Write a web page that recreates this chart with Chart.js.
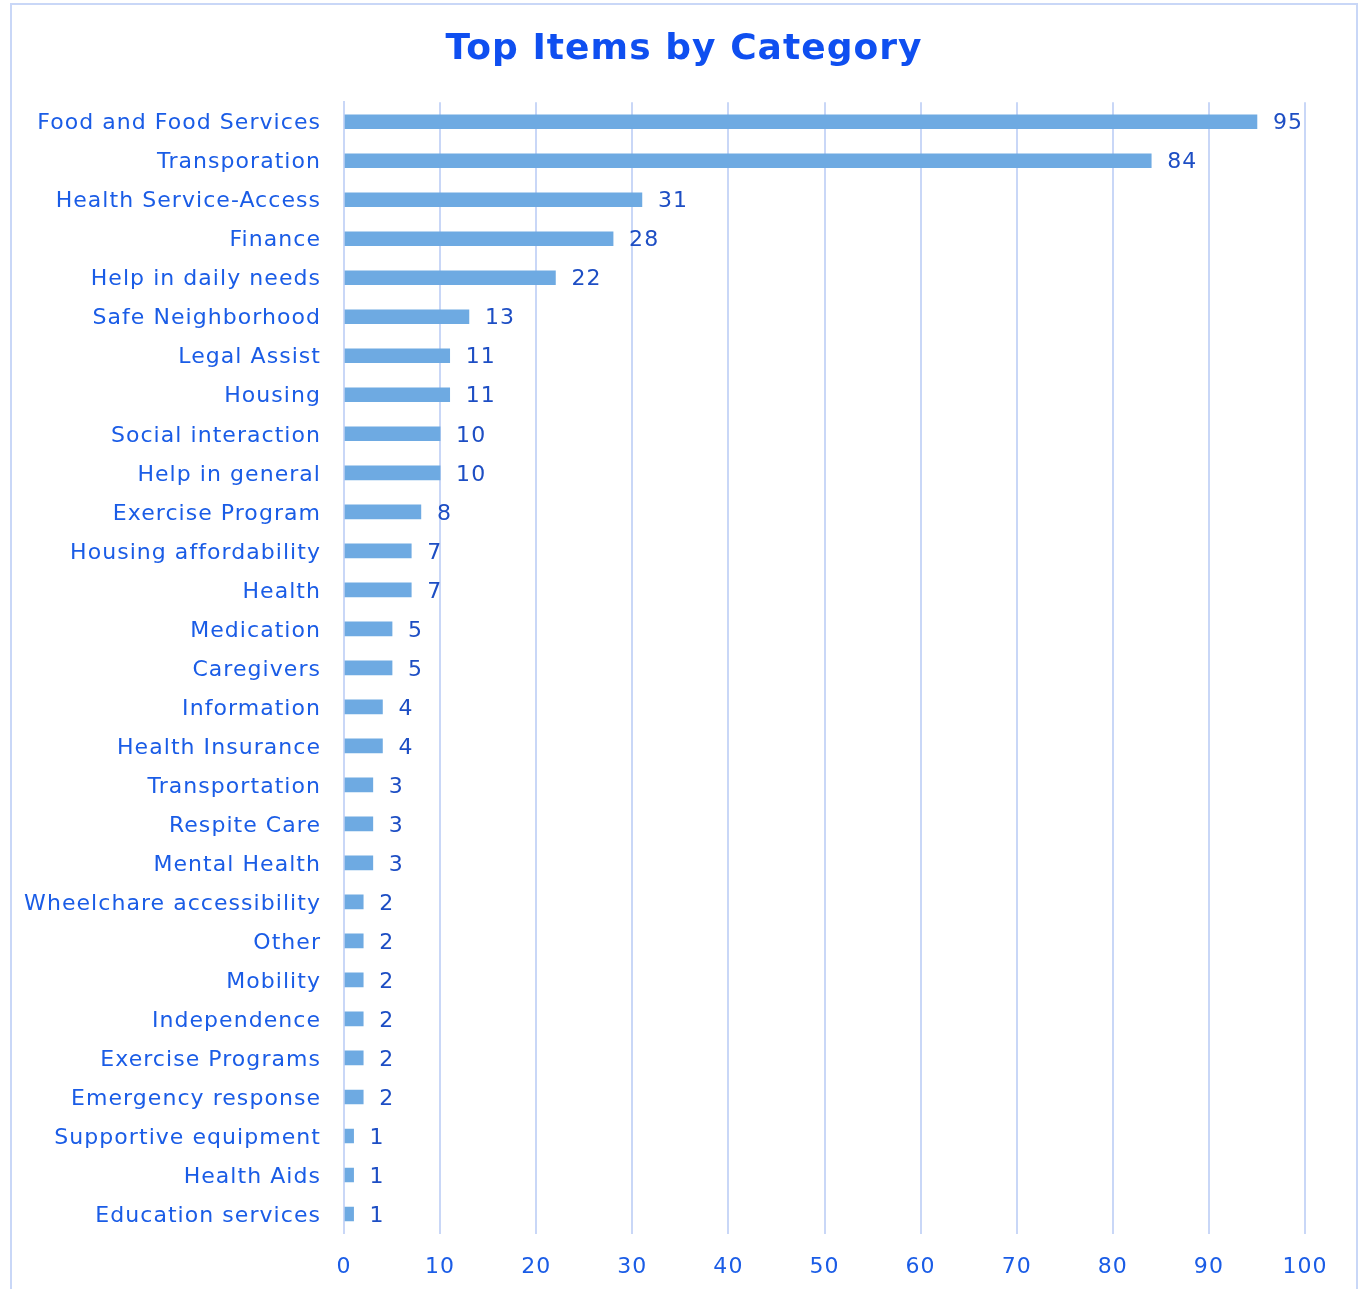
<!DOCTYPE html>
<html>
<head>
<meta charset="utf-8">
<script src="https://cdn.jsdelivr.net/npm/chart.js@4/dist/chart.umd.min.js"></script>
<style>
  html, body { margin: 0; padding: 0; background: #ffffff; }
  #frame {
    position: absolute; left: 10px; top: 3px; width: 1348px; height: 1300px;
    border: 2px solid #c9d7f7; box-sizing: border-box;
  }
  #wrap { position: absolute; left: 0; top: 0; width: 1361px; height: 1289px; }
</style>
</head>
<body>
<div id="frame"></div>
<div id="wrap"><canvas id="chart" width="1361" height="1289"></canvas></div>
<script>
// Categories and their counts, largest first
const categories = [
  "Food and Food Services", "Transporation", "Health Service-Access", "Finance",
  "Help in daily needs", "Safe Neighborhood", "Legal Assist", "Housing",
  "Social interaction", "Help in general", "Exercise Program", "Housing affordability",
  "Health", "Medication", "Caregivers", "Information", "Health Insurance",
  "Transportation", "Respite Care", "Mental Health", "Wheelchare accessibility",
  "Other", "Mobility", "Independence", "Exercise Programs", "Emergency response",
  "Supportive equipment", "Health Aids", "Education services"
];
const counts = [
  95, 84, 31, 28, 22, 13, 11, 11, 10, 10, 8, 7, 7, 5, 5, 4, 4, 3, 3, 3,
  2, 2, 2, 2, 2, 2, 1, 1, 1
];
const xTicks = [0, 10, 20, 30, 40, 50, 60, 70, 80, 90, 100];
const chartTitle = "Top Items by Category";

const FONT = "'DejaVu Sans', Verdana, sans-serif";
const LABEL_BLUE = "#1a5ce6";
const VALUE_BLUE = "#1d4ec4";
const TITLE_BLUE = "#0f4ff0";
const GRID = "#c9d7f7";

// Slightly wider tracking for all canvas text
const tracking = {
  id: "tracking",
  beforeDraw(chart) { chart.ctx.letterSpacing = "1.05px"; }
};

// Title centred on the framed panel rather than the plot area
const centredTitle = {
  id: "centredTitle",
  afterDraw(chart) {
    const ctx = chart.ctx;
    const blk = chart.titleBlock;
    ctx.save();
    ctx.font = "bold 36px " + FONT;
    ctx.fillStyle = TITLE_BLUE;
    ctx.textAlign = "center";
    ctx.textBaseline = "middle";
    ctx.fillText(chartTitle, 684, blk.top + 28 + 21.6);
    ctx.restore();
  }
};

// Writes each bar's count just past its end
const valueLabels = {
  id: "valueLabels",
  afterDatasetsDraw(chart) {
    const ctx = chart.ctx;
    const meta = chart.getDatasetMeta(0);
    ctx.save();
    ctx.font = "22px " + FONT;
    ctx.fillStyle = VALUE_BLUE;
    ctx.textAlign = "left";
    ctx.textBaseline = "middle";
    meta.data.forEach((bar, i) => {
      ctx.fillText(String(counts[i]), bar.x + 16, bar.y + 2);
    });
    ctx.restore();
  }
};

new Chart(document.getElementById("chart"), {
  type: "bar",
  data: {
    labels: categories,
    datasets: [{
      data: counts,
      backgroundColor: "#6eaae2",
      borderWidth: 0,
      barThickness: 14
    }]
  },
  options: {
    indexAxis: "y",
    responsive: false,
    animation: false,
    layout: { padding: { left: 0, right: 56, top: 0, bottom: 0 } },
    plugins: {
      legend: { display: false },
      tooltip: { enabled: false },
      title: {
        display: true,
        text: chartTitle,
        color: "rgba(0,0,0,0)",
        font: { family: FONT, size: 36, weight: "bold", lineHeight: 1.2 },
        padding: { top: 28, bottom: 31 }
      }
    },
    scales: {
      x: {
        min: 0,
        max: 100,
        afterBuildTicks(scale) { scale.ticks = xTicks.map(v => ({ value: v })); },
        afterFit(scale) { scale.height = 55.5; },
        grid: { color: GRID, lineWidth: 2, drawTicks: false },
        border: { display: false },
        ticks: {
          color: LABEL_BLUE,
          padding: 21,
          font: { family: FONT, size: 22 }
        }
      },
      y: {
        afterFit(scale) { scale.width = 344; },
        grid: { display: false, drawTicks: false },
        border: { display: true, color: GRID, width: 2 },
        ticks: {
          color: LABEL_BLUE,
          padding: 23,
          labelOffset: 2,
          autoSkip: false,
          font: { family: FONT, size: 22 }
        }
      }
    }
  },
  plugins: [tracking, centredTitle, valueLabels]
});
</script>
</body>
</html>
